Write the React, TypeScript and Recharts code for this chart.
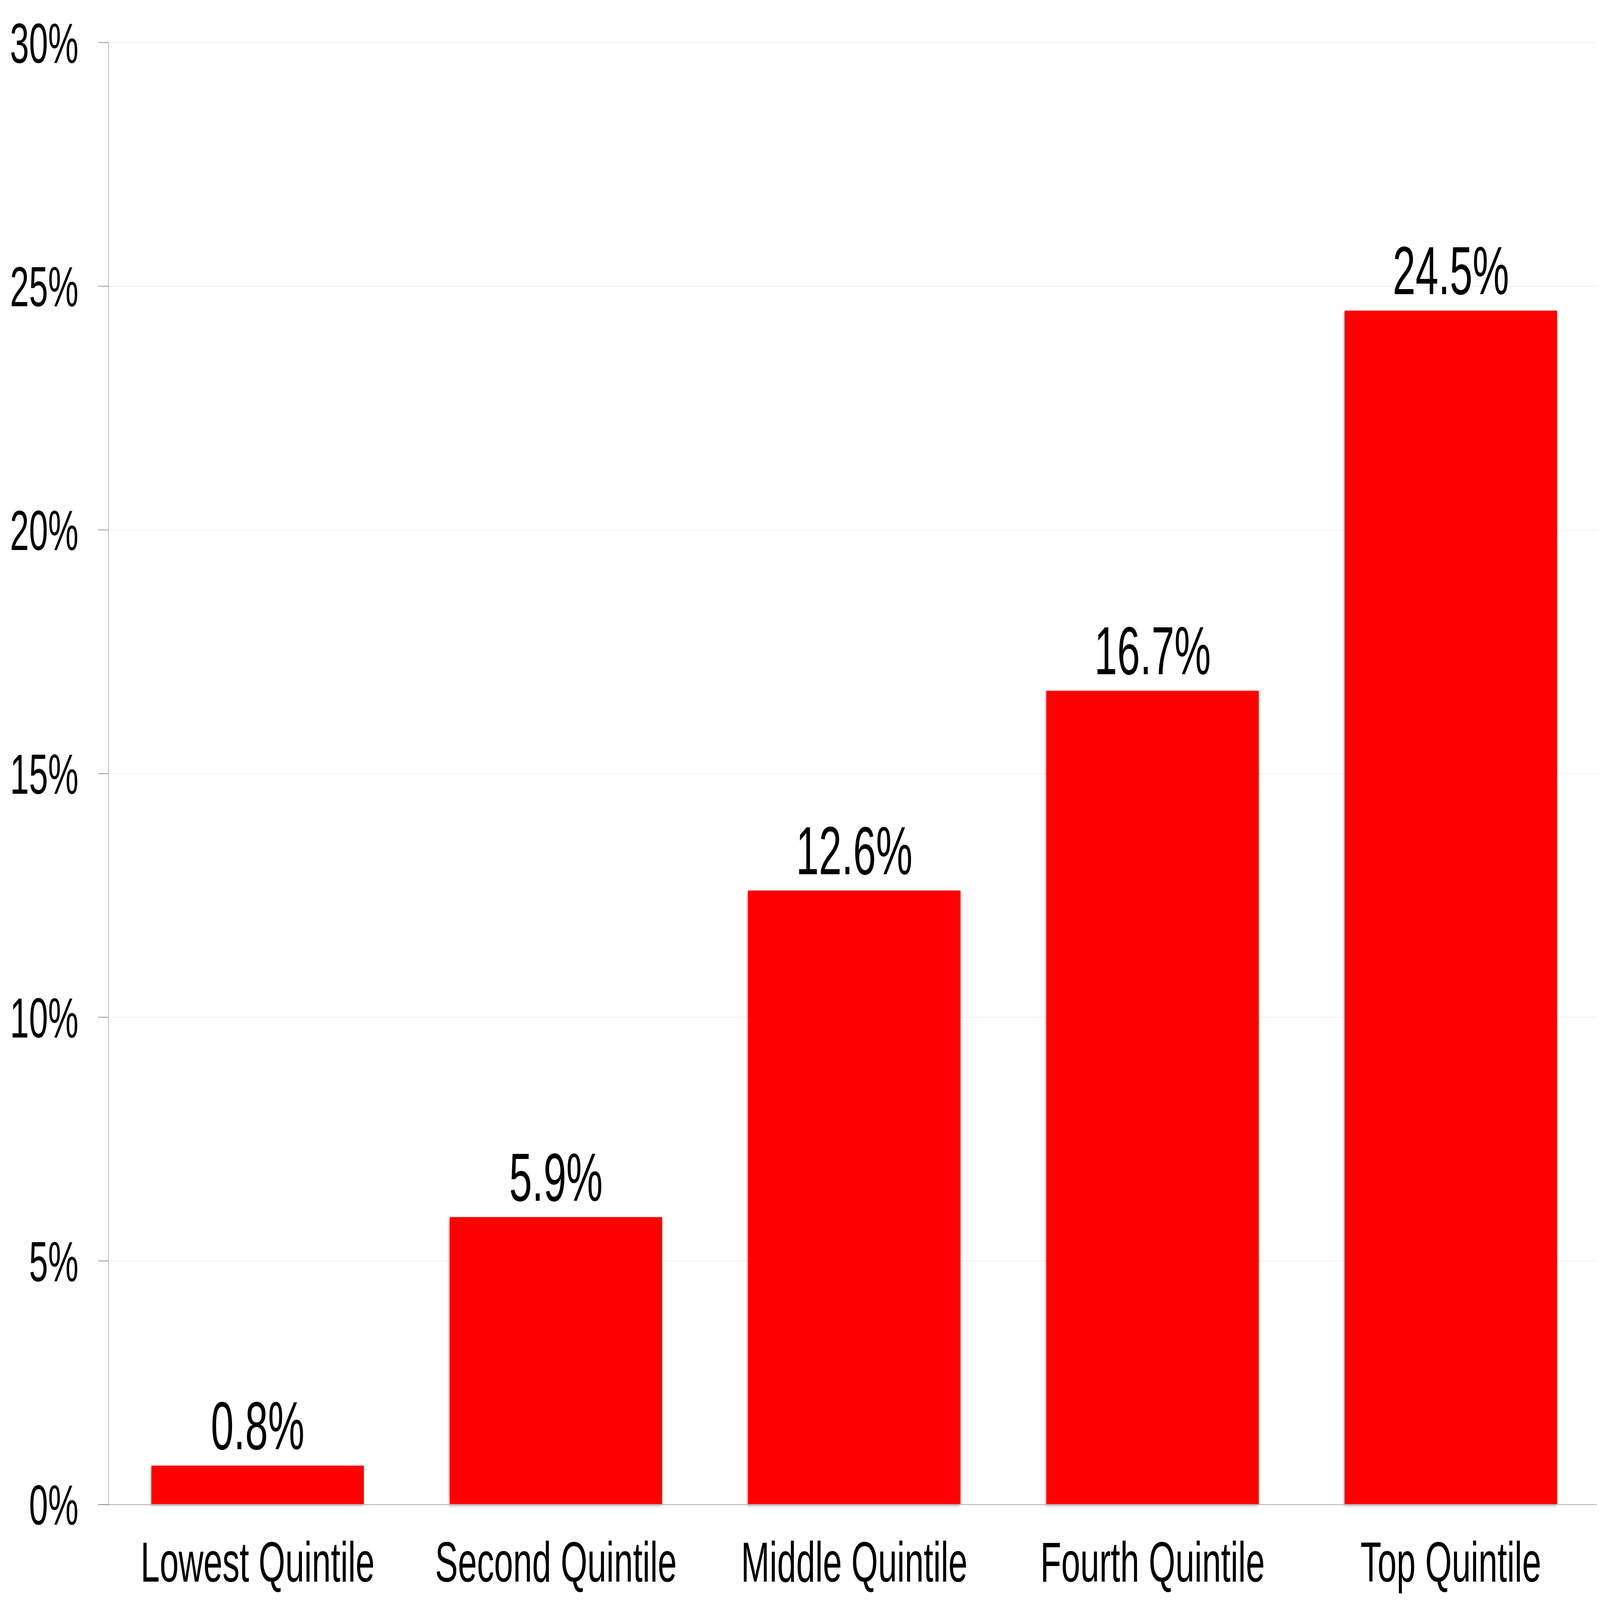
import React from "react";
import {
  BarChart,
  Bar,
  XAxis,
  YAxis,
  CartesianGrid,
  LabelList,
  ReferenceLine,
} from "recharts";

const quintiles = [
  "Lowest Quintile",
  "Second Quintile",
  "Middle Quintile",
  "Fourth Quintile",
  "Top Quintile",
];
const shares = [0.8, 5.9, 12.6, 16.7, 24.5];
const yTicks = [0, 5, 10, 15, 20, 25, 30];

const data = quintiles.map((name, i) => ({ name, share: shares[i] }));

const W = 7478;
const H = 4511;
const FONT = "'Liberation Sans', Arial, sans-serif";

// grey zero line plus the black base line just under it, with a soft shadow
const BaseLine = (props: any) => {
  const { x1, x2, y1 } = props;
  return (
    <g>
      <line
        x1={x1 - 48}
        x2={x2}
        y1={y1}
        y2={y1}
        stroke="#bbbbbb"
        strokeWidth={3}
      />
      <line
        x1={x1 - 55}
        x2={x2}
        y1={y1 + 8}
        y2={y1 + 8}
        stroke="#000"
        strokeWidth={5}
        filter="url(#lineShadow)"
      />
    </g>
  );
};

export default function App() {
  // the window can come out smaller than asked for; fit the chart into it
  const vw = window.innerWidth || W;
  const vh = window.innerHeight || H;
  const sx = Math.min(1, vw / W);
  const sy = Math.min(1, vh / H);

  return (
    <div
      style={{
        margin: -8,
        width: Math.min(vw, W),
        height: Math.min(vh, H),
        overflow: "hidden",
        background: "#fff",
      }}
    >
      <div
        style={{
          width: W,
          height: H,
          transform: `scale(${sx}, ${sy})`,
          transformOrigin: "0 0",
        }}
      >
        <BarChart
          width={W}
          height={H}
          data={data}
          margin={{ top: 120, right: 0, left: 0, bottom: 0 }}
          barCategoryGap="14.4%"
        >
          <defs>
            <filter id="barShadow" x="-5%" y="-5%" width="110%" height="110%">
              <feDropShadow
                dx={-4}
                dy={3}
                stdDeviation={4}
                floodColor="#000"
                floodOpacity={0.35}
              />
            </filter>
            <filter id="lineShadow" x="-1%" y="-200%" width="102%" height="600%">
              <feDropShadow
                dx={0}
                dy={5}
                stdDeviation={4}
                floodColor="#000"
                floodOpacity={0.3}
              />
            </filter>
          </defs>
          <CartesianGrid vertical={false} stroke="#eeeeee" strokeWidth={2} />
          <XAxis
            dataKey="name"
            height={269}
            axisLine={false}
            tickLine={false}
            tickSize={0}
            tickMargin={104}
            tick={{ fontSize: 160, fill: "#000", fontFamily: FONT }}
            interval={0}
          />
          <YAxis
            width={507}
            domain={[0, 30]}
            ticks={yTicks}
            interval={0}
            tickFormatter={(v: number) => `${v}%`}
            axisLine={{ stroke: "#888", strokeWidth: 2 }}
            tickLine={{ stroke: "#888", strokeWidth: 2 }}
            tickSize={48}
            tickMargin={92}
            tick={{ fontSize: 160, fill: "#000", fontFamily: FONT }}
          />
          <Bar
            dataKey="share"
            fill="#ff0000"
            isAnimationActive={false}
            filter="url(#barShadow)"
          >
            <LabelList
              dataKey="share"
              position="top"
              offset={46}
              formatter={(v: any) => `${Number(v).toFixed(1)}%`}
              style={{ fontSize: 192, fill: "#000", fontFamily: FONT }}
            />
          </Bar>
          <ReferenceLine y={0} shape={BaseLine} ifOverflow="visible" />
        </BarChart>
      </div>
    </div>
  );
}
